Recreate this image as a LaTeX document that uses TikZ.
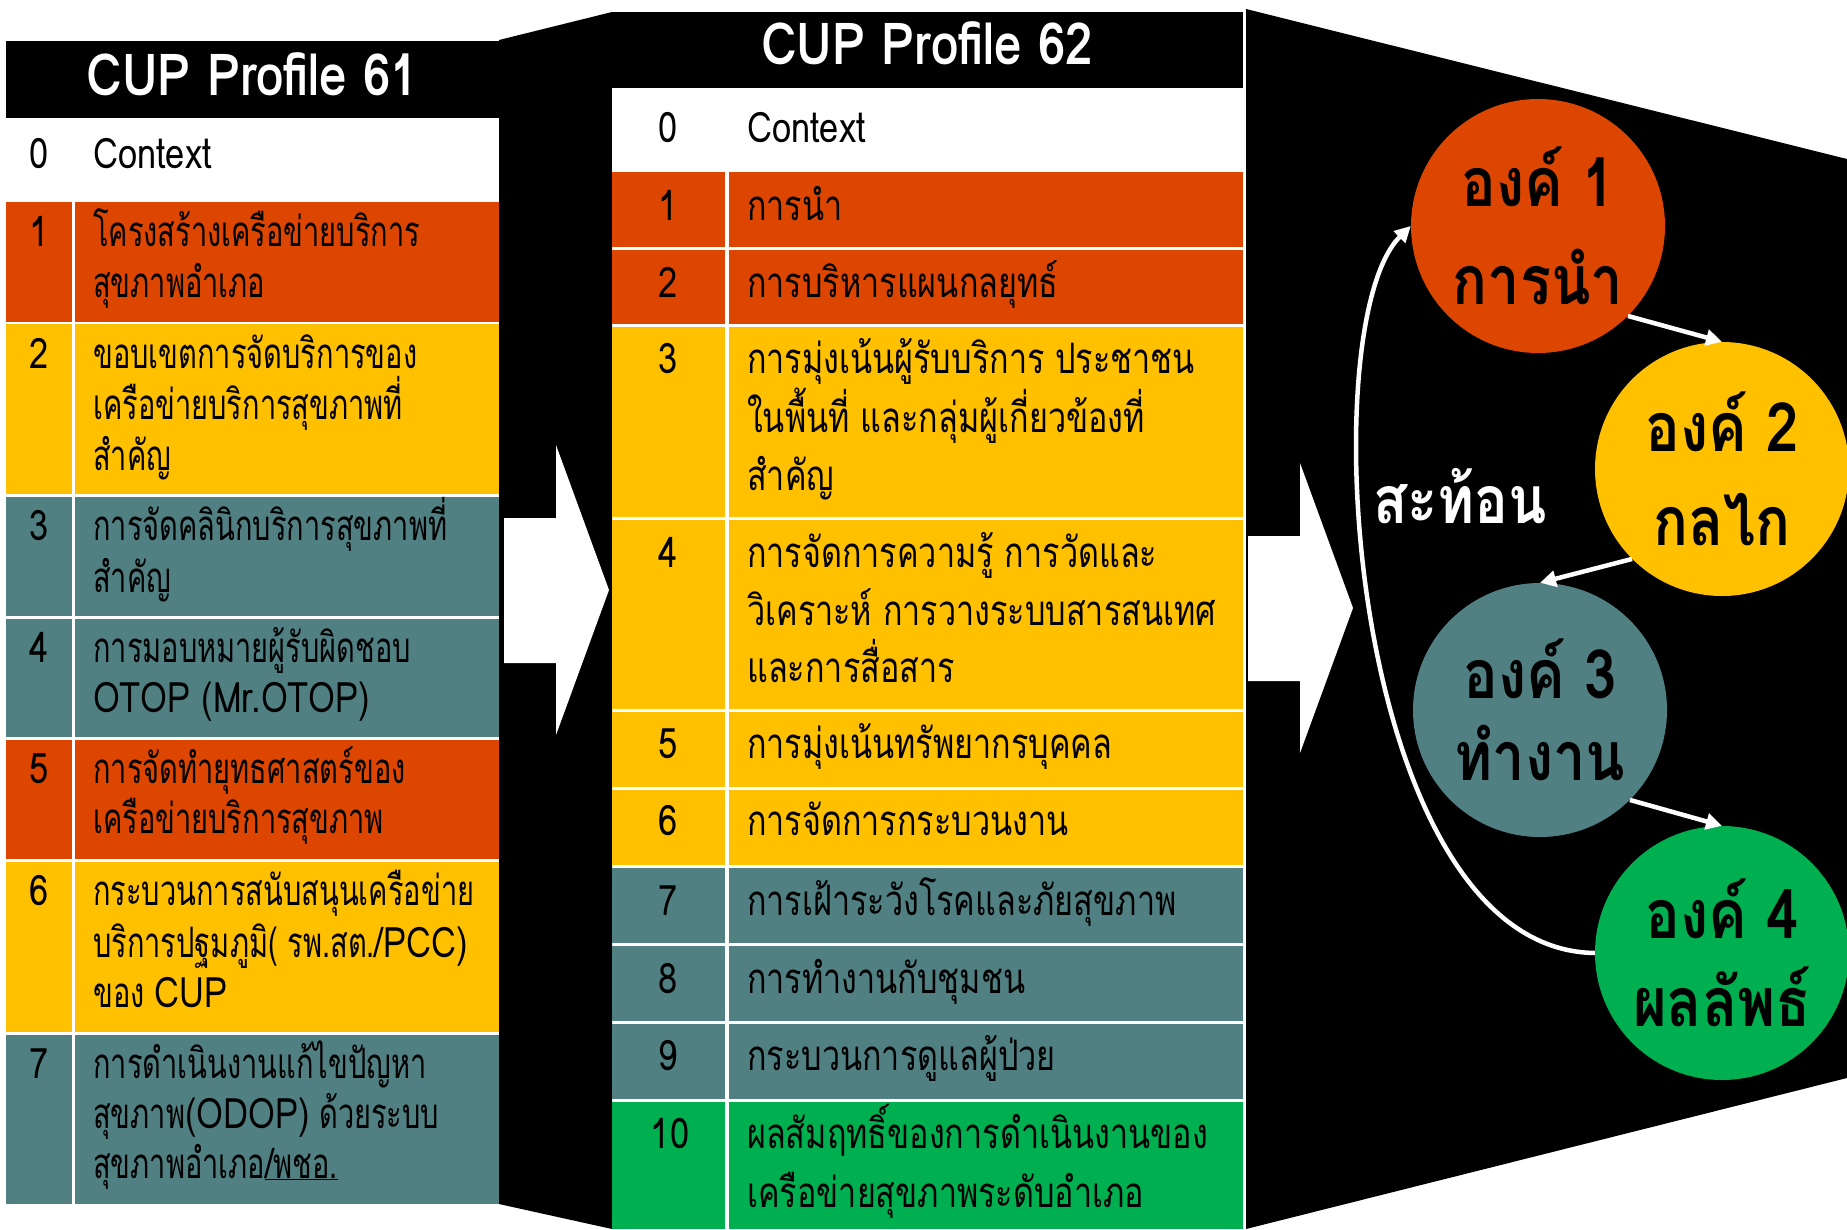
\documentclass[tikz,border=0pt]{standalone}
\usepackage{fontspec}
\usetikzlibrary{arrows.meta}
\newfontfamily\latf[FakeStretch=0.82]{Loma}
\newfontfamily\thL[Script=Thai,FakeStretch=0.69]{Loma}
\newfontfamily\thM[Script=Thai,FakeStretch=0.77]{Loma}
\newfontfamily\hdf[FakeStretch=0.85]{Loma}
\newfontfamily\circfont[Script=Thai,FakeStretch=0.85]{Loma}
\definecolor{cOr}{RGB}{221,70,0}
\definecolor{cYe}{RGB}{255,192,0}
\definecolor{cTe}{RGB}{81,128,131}
\definecolor{cGr}{RGB}{0,176,80}
\begin{document}
\begin{tikzpicture}[x=1pt,y=-1pt,
  cell/.style={anchor=north west,inner sep=0pt,outer sep=0pt,draw=none,minimum width=#1},
  tl/.style={anchor=base west,inner sep=0pt,font={\thL\fontsize{42}{51}\selectfont}},
  tm/.style={anchor=base west,inner sep=0pt,font={\thM\fontsize{42}{51}\selectfont}},
  nm/.style={anchor=base,inner sep=0pt,font={\latf\fontsize{42}{51}\selectfont}},
  hd/.style={anchor=base,inner sep=0pt,text=white,font={\hdf\bfseries\fontsize{58}{60}\selectfont}},
  circ/.style={circle,fill=#1,minimum size=254pt,inner sep=0pt,align=center},
  cf/.style={font={\circfont\bfseries\fontsize{68}{#1}\selectfont}},
  conn/.style={draw=white,line width=4.5pt,-{Triangle[length=16pt,width=16pt]}},
  lbl/.style={inner sep=0pt,text=white,font={\circfont\bfseries\fontsize{66}{72}\selectfont}}]
\useasboundingbox (0,0) rectangle (1847,1229);
\fill[white] (0,0) rectangle (1847,1229);
% black connectors
\fill[black] (499,40) -- (612,12) -- (612,1229) -- (499,1204) -- cycle;
\fill[black] (1246,9) -- (1847,159) -- (1847,1078) -- (1246,1229) -- cycle;
% ---------- left table ----------
\node[cell=493pt,fill=black,minimum height=77pt] (Lh) at (6,41) {};
\node[hd] (Lht) at (252.5,95) {CUP Profile 61};
\node[cell=493pt,fill=white,minimum height=84pt] (L0) at (6,118) {};
\node[nm] (L0n) at (39,168) {0};
\node[tl] (L0t) at (93,168) {\latf Context};
\node[cell=66pt,fill=cOr,minimum height=120pt] (L1n) at (6,202) {};
\node[cell=424pt,fill=cOr,minimum height=120pt] (L1t) at (75,202) {};
\node[cell=66pt,fill=cYe,minimum height=170pt] (L2n) at (6,324) {};
\node[cell=424pt,fill=cYe,minimum height=170pt] (L2t) at (75,324) {};
\node[cell=66pt,fill=cTe,minimum height=119pt] (L3n) at (6,497) {};
\node[cell=424pt,fill=cTe,minimum height=119pt] (L3t) at (75,497) {};
\node[cell=66pt,fill=cTe,minimum height=118pt] (L4n) at (6,619) {};
\node[cell=424pt,fill=cTe,minimum height=118pt] (L4t) at (75,619) {};
\node[cell=66pt,fill=cOr,minimum height=119pt] (L5n) at (6,740) {};
\node[cell=424pt,fill=cOr,minimum height=119pt] (L5t) at (75,740) {};
\node[cell=66pt,fill=cYe,minimum height=170pt] (L6n) at (6,862) {};
\node[cell=424pt,fill=cYe,minimum height=170pt] (L6t) at (75,862) {};
\node[cell=66pt,fill=cTe,minimum height=169pt] (L7n) at (6,1035) {};
\node[cell=424pt,fill=cTe,minimum height=169pt] (L7t) at (75,1035) {};
\node[nm] at (39,246) {1};
\node[tl] at (93,246) {โครงสร้างเครือข่ายบริการ};
\node[tl] at (93,297) {สุขภาพอำเภอ};
\node[nm] at (39,368) {2};
\node[tl] at (93,368) {ขอบเขตการจัดบริการของ};
\node[tl] at (93,419) {เครือข่ายบริการสุขภาพที่};
\node[tl] at (93,470) {สำคัญ};
\node[nm] at (39,540) {3};
\node[tl] at (93,540) {การจัดคลินิกบริการสุขภาพที่};
\node[tl] at (93,592) {สำคัญ};
\node[nm] at (39,662) {4};
\node[tl] at (93,662) {การมอบหมายผู้รับผิดชอบ};
\node[tl] at (93,712) {\latf OTOP (Mr.OTOP)};
\node[nm] at (39,783) {5};
\node[tl] at (93,783) {การจัดทำยุทธศาสตร์ของ};
\node[tl] at (93,833) {เครือข่ายบริการสุขภาพ};
\node[nm] at (39,905) {6};
\node[tl] at (93,905) {กระบวนการสนับสนุนเครือข่าย};
\node[tl] at (93,957) {บริการปฐมภูมิ( รพ.สต./{\latf PCC)}};
\node[tl] at (93,1007) {ของ {\latf CUP}};
\node[nm] at (39,1078) {7};
\node[tl] at (93,1078) {การดำเนินงานแก้ไขปัญหา};
\node[tl] at (93,1128) {สุขภาพ{\latf (ODOP)} ด้วยระบบ};
\node[tl] at (93,1178) {สุขภาพอำเภอ\underline{/พชอ.}};
% ---------- middle table ----------
\node[cell=631pt,fill=black,minimum height=76pt] (Mh) at (612,12) {};
\node[hd] (Mht) at (927,64) {CUP Profile 62};
\node[cell=631pt,fill=white,minimum height=84pt] (M0) at (612,88) {};
\node[nm] at (668,142) {0};
\node[tm] at (747,142) {\latf Context};
\node[cell=113pt,fill=cOr,minimum height=75pt] (M1n) at (612,172) {};
\node[cell=514pt,fill=cOr,minimum height=75pt] (M1t) at (729,172) {};
\node[cell=113pt,fill=cOr,minimum height=74pt] (M2n) at (612,250) {};
\node[cell=514pt,fill=cOr,minimum height=74pt] (M2t) at (729,250) {};
\node[cell=113pt,fill=cYe,minimum height=190pt] (M3n) at (612,327) {};
\node[cell=514pt,fill=cYe,minimum height=190pt] (M3t) at (729,327) {};
\node[cell=113pt,fill=cYe,minimum height=189pt] (M4n) at (612,520) {};
\node[cell=514pt,fill=cYe,minimum height=189pt] (M4t) at (729,520) {};
\node[cell=113pt,fill=cYe,minimum height=75pt] (M5n) at (612,712) {};
\node[cell=514pt,fill=cYe,minimum height=75pt] (M5t) at (729,712) {};
\node[cell=113pt,fill=cYe,minimum height=75pt] (M6n) at (612,790) {};
\node[cell=514pt,fill=cYe,minimum height=75pt] (M6t) at (729,790) {};
\node[cell=113pt,fill=cTe,minimum height=75pt] (M7n) at (612,868) {};
\node[cell=514pt,fill=cTe,minimum height=75pt] (M7t) at (729,868) {};
\node[cell=113pt,fill=cTe,minimum height=75pt] (M8n) at (612,946) {};
\node[cell=514pt,fill=cTe,minimum height=75pt] (M8t) at (729,946) {};
\node[cell=113pt,fill=cTe,minimum height=75pt] (M9n) at (612,1024) {};
\node[cell=514pt,fill=cTe,minimum height=75pt] (M9t) at (729,1024) {};
\node[cell=113pt,fill=cGr,minimum height=127pt] (M10n) at (612,1102) {};
\node[cell=514pt,fill=cGr,minimum height=127pt] (M10t) at (729,1102) {};
\node[nm] at (668,220) {1};
\node[tm] at (747,220) {การนำ};
\node[nm] at (668,297) {2};
\node[tm] at (747,297) {การบริหารแผนกลยุทธ์};
\node[nm] at (668,373) {3};
\node[tm] at (747,373) {การมุ่งเน้นผู้รับบริการ ประชาชน};
\node[tm] at (747,432) {ในพื้นที่ และกลุ่มผู้เกี่ยวข้องที่};
\node[tm] at (747,490) {สำคัญ};
\node[nm] at (668,567) {4};
\node[tm] at (747,567) {การจัดการความรู้ การวัดและ};
\node[tm] at (747,625) {วิเคราะห์ การวางระบบสารสนเทศ};
\node[tm] at (747,682) {และการสื่อสาร};
\node[nm] at (668,758) {5};
\node[tm] at (747,758) {การมุ่งเน้นทรัพยากรบุคคล};
\node[nm] at (668,835) {6};
\node[tm] at (747,835) {การจัดการกระบวนงาน};
\node[nm] at (668,915) {7};
\node[tm] at (747,915) {การเฝ้าระวังโรคและภัยสุขภาพ};
\node[nm] at (668,993) {8};
\node[tm] at (747,993) {การทำงานกับชุมชน};
\node[nm] at (668,1070) {9};
\node[tm] at (747,1070) {กระบวนการดูแลผู้ป่วย};
\node[nm] at (670,1148) {10};
\node[tm] at (747,1148) {ผลสัมฤทธิ์ของการดำเนินงานของ};
\node[tm] at (747,1207) {เครือข่ายสุขภาพระดับอำเภอ};
% ---------- big white arrows ----------
\fill[white] (504,518) -- (556,518) -- (556,445) -- (609,590) -- (556,735) -- (556,663) -- (504,663) -- cycle;
\fill[white] (1248,536) -- (1300,536) -- (1300,463) -- (1353,608) -- (1300,753) -- (1300,681) -- (1248,681) -- cycle;
% ---------- circles ----------
\node[circ=cOr,cf=98] (c1) at (1538,226) {องค์ 1\\การนำ};
\node[circ=cYe,cf=94] (c2) at (1722,469) {องค์ 2\\กลไก};
\node[circ=cTe,cf=82] (c3) at (1540,710) {องค์ 3\\ทำงาน};
\node[circ=cGr,cf=88] (c4) at (1722,953) {องค์ 4\\ผลลัพธ์};
\node[lbl] (refl) at (1460,496) {สะท้อน};
\draw[conn] (c1.-45) -- (c2.north);
\draw[conn] (c2.-135) -- (c3.north);
\draw[conn] (c3.-45) -- (c4.north);
\draw[conn] (c4.west) .. controls (1350,950) and (1310,325) .. (c1.west);
\end{tikzpicture}
\end{document}
